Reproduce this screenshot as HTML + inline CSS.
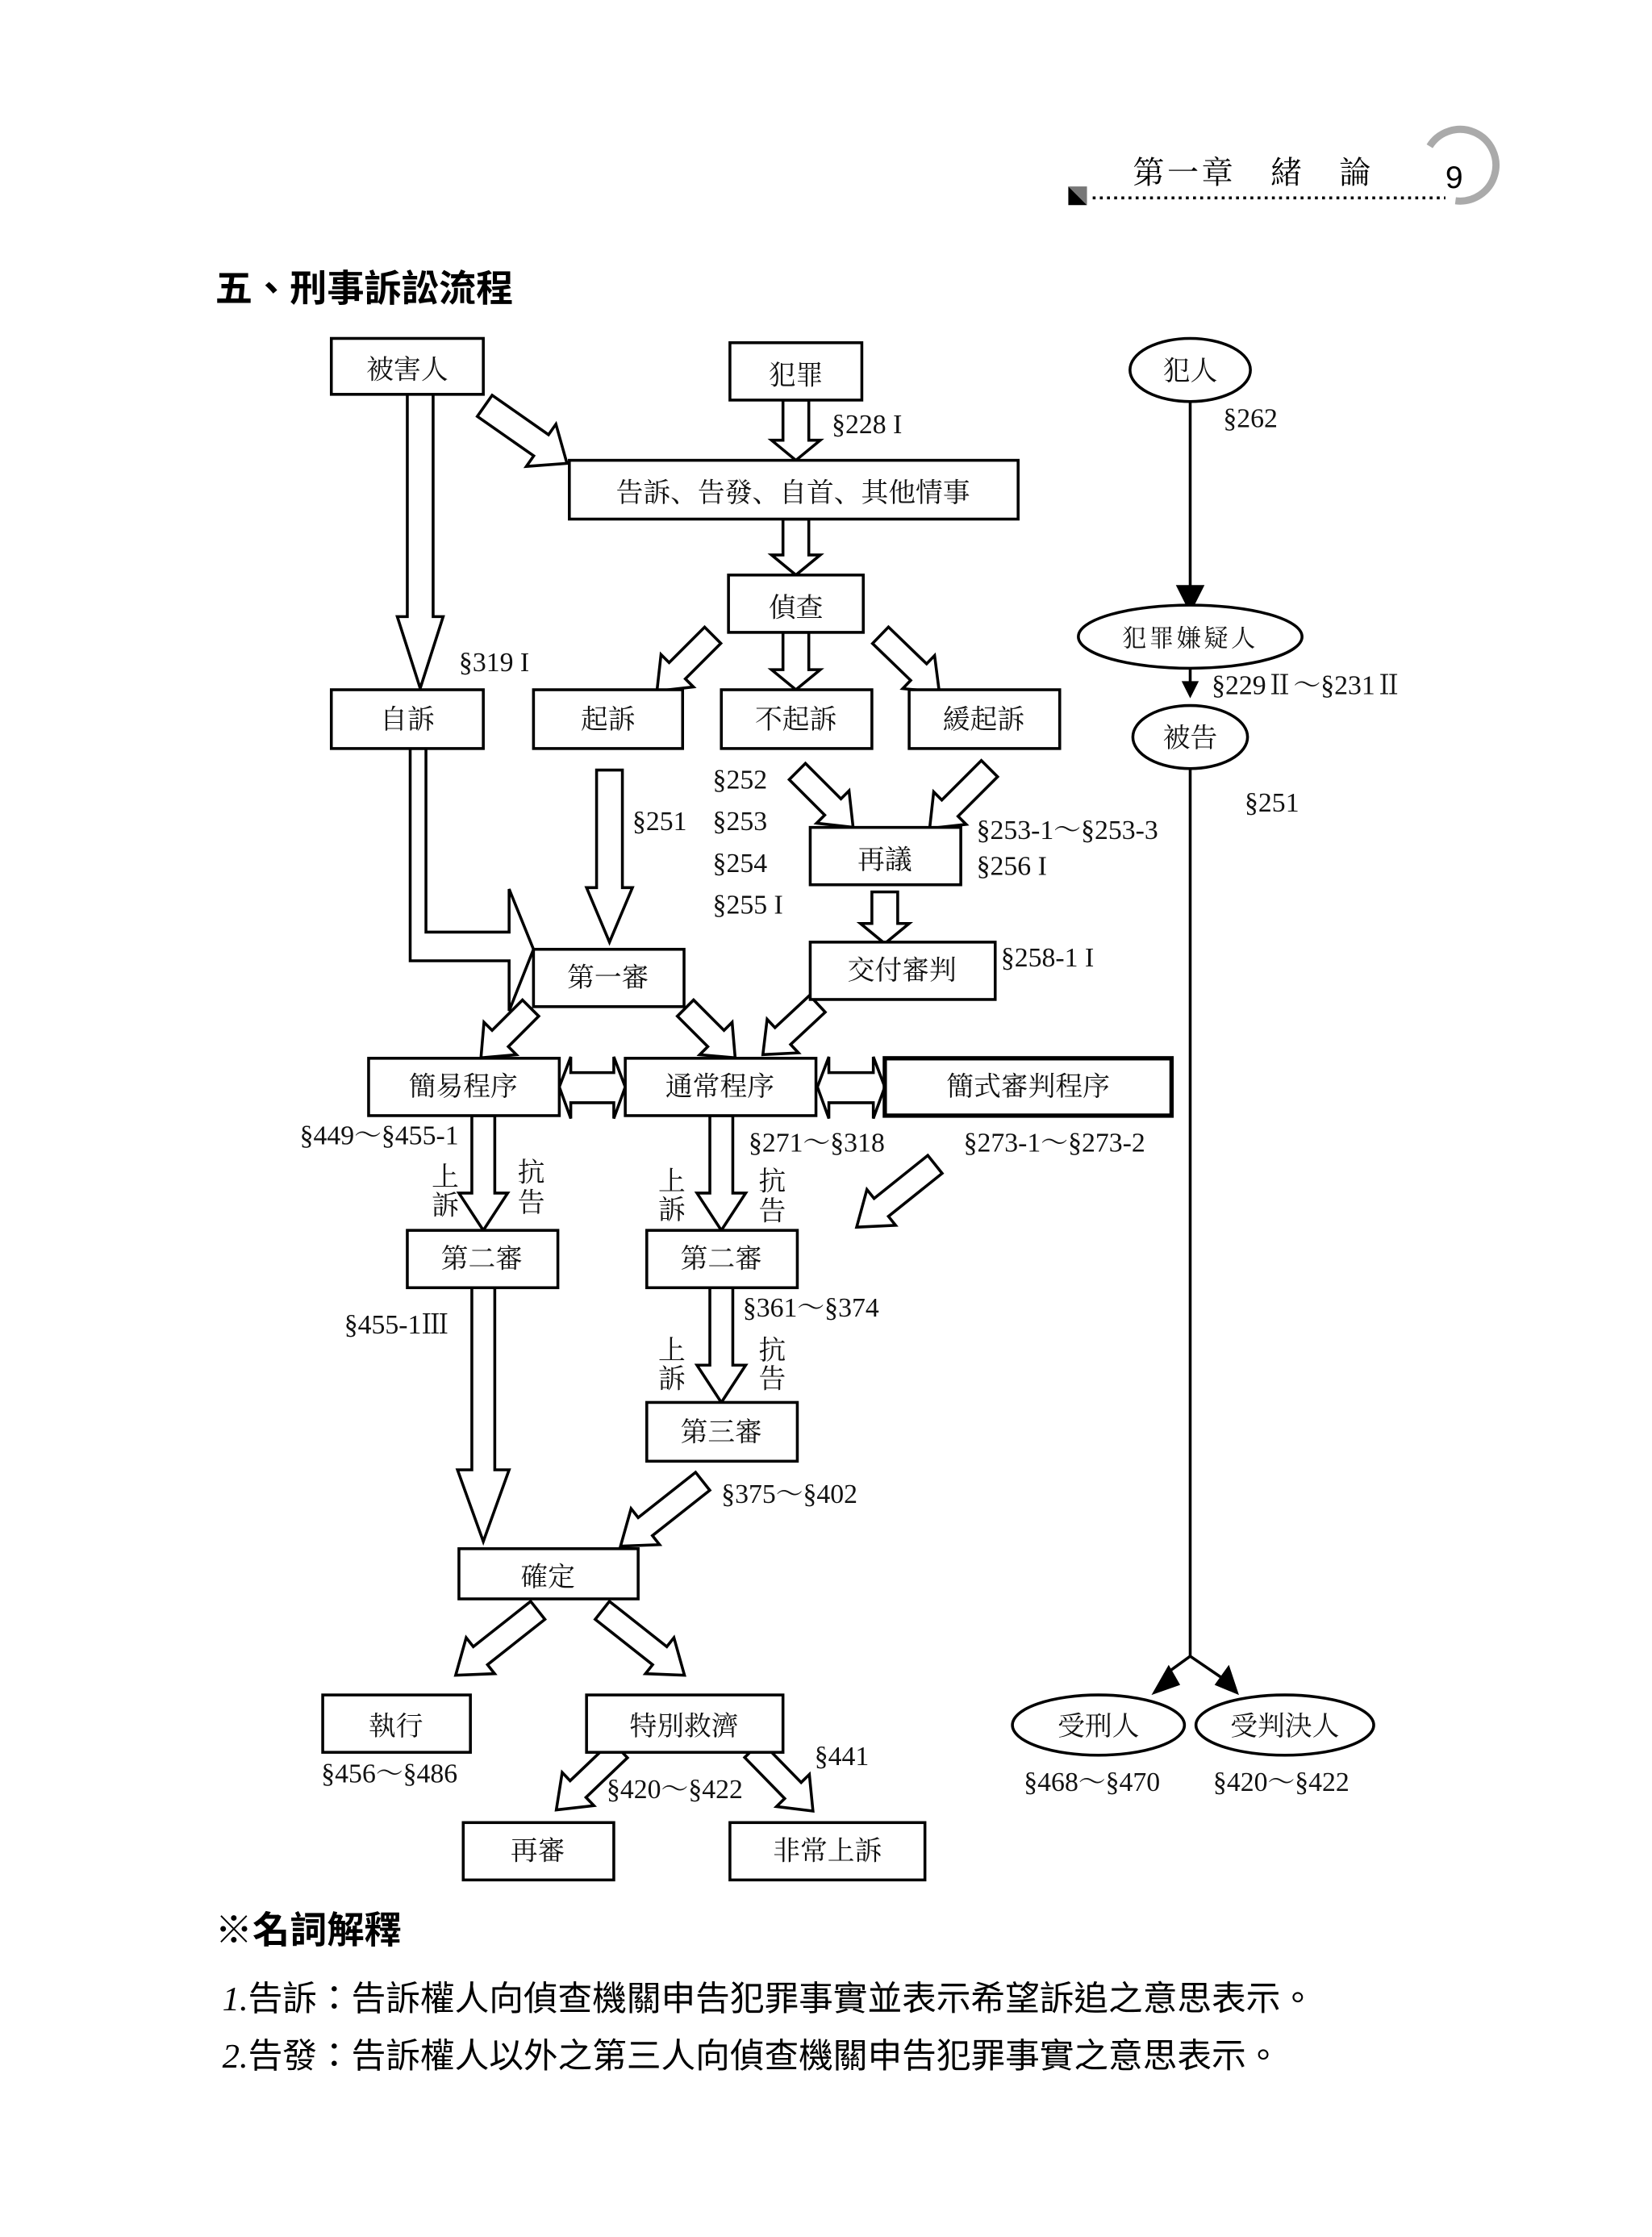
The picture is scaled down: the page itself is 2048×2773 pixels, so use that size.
<!DOCTYPE html>
<html><head><meta charset="utf-8">
<style>
html,body{margin:0;padding:0;background:#fff;}
svg{display:block;}
.t{font-family:"Liberation Serif","Noto Serif CJK SC","Noto Sans CJK TC",serif;font-size:19px;fill:#111;}
.b{font-family:"Liberation Serif","Noto Serif CJK SC","Noto Sans CJK TC",serif;font-size:19px;fill:#111;text-anchor:middle;}
.h{font-family:"Liberation Sans","Noto Sans CJK TC",sans-serif;font-size:26px;font-weight:bold;fill:#000;}
.p{font-family:"Liberation Serif","Noto Sans CJK TC",serif;font-size:24px;fill:#000;}
rect,ellipse{fill:#fff;stroke:#000;stroke-width:2;}
polygon.a{fill:#fff;stroke:#000;stroke-width:2;stroke-linejoin:miter;}
</style></head><body>
<svg width="2048" height="2773" viewBox="0 0 1152 1560" xmlns="http://www.w3.org/2000/svg">
<!-- header -->
<text x="790" y="128" style="font-family:'Noto Serif CJK SC',serif;font-size:22px;fill:#000;letter-spacing:2px">第一章　緒　論</text>
<path d="M 997 102 A 25 25 0 1 1 1015 140" fill="none" stroke="#aaa" stroke-width="5"/>
<text x="1008" y="131" style="font-family:'Liberation Sans',sans-serif;font-size:22px;fill:#000">9</text>
<polygon points="745,130 758,143 745,143" fill="#000"/>
<polygon points="745,130 758,130 758,143" fill="#777"/>
<line x1="762" y1="138" x2="1008" y2="138" stroke="#000" stroke-width="2" stroke-dasharray="2,3"/>

<text x="150" y="210" class="h">五、刑事訴訟流程</text>

<!-- arrows -->
<polygon class="a" transform="translate(293,274)" points="-9,0 9,0 9,156 16,156 0,206 -16,156 -9,156"/>
<polygon class="a" transform="translate(338,283) rotate(-55)" points="-9,0 9,0 9,48 18,48 0,70 -18,48 -9,48"/>
<polygon class="a" transform="translate(555,279)" points="-9,0 9,0 9,28 17,28 0,42 -17,28 -9,28"/>
<polygon class="a" transform="translate(555,362)" points="-9,0 9,0 9,25 17,25 0,39 -17,25 -9,25"/>
<polygon class="a" transform="translate(497,443) rotate(45)" points="-8,0 8,0 8,35 16,35 0,55 -16,35 -8,35"/>
<polygon class="a" transform="translate(555,441)" points="-9,0 9,0 9,26 17,26 0,40 -17,26 -9,26"/>
<polygon class="a" transform="translate(614,443) rotate(-46)" points="-8,0 8,0 8,37 16,37 0,57 -16,37 -8,37"/>
<polygon class="a" transform="translate(556,538) rotate(-45)" points="-8,0 8,0 8,35 16,35 0,55 -16,35 -8,35"/>
<polygon class="a" transform="translate(690,536) rotate(45)" points="-8,0 8,0 8,39 16,39 0,59 -16,39 -8,39"/>
<polygon class="a" transform="translate(425,537)" points="-9,0 9,0 9,82 16,82 0,120 -16,82 -9,82"/>
<polygon class="a" transform="translate(617,622)" points="-9,0 9,0 9,22 17,22 0,36 -17,22 -9,22"/>
<polygon class="a" points="286,522 297,522 297,650 355,650 355,620 372,662 355,705 355,670 286,670"/>
<polygon class="a" transform="translate(370,703) rotate(45)" points="-8,0 8,0 8,30 16,30 0,49 -16,30 -8,30"/>
<polygon class="a" transform="translate(478,703) rotate(-45)" points="-8,0 8,0 8,30 16,30 0,49 -16,30 -8,30"/>
<polygon class="a" transform="translate(570,700) rotate(47)" points="-8,0 8,0 8,33 16,33 0,52 -16,33 -8,33"/>
<polygon class="a" points="390,758 398,737 398,748 428,748 428,737 436,758 428,780 428,769 398,769 398,780"/>
<polygon class="a" points="570,758 578,737 578,748 609,748 609,737 617,758 609,780 609,769 578,769 578,780"/>
<polygon class="a" transform="translate(337,778)" points="-8,0 8,0 8,54 17,54 0,80 -17,54 -8,54"/>
<polygon class="a" transform="translate(503,778)" points="-8,0 8,0 8,54 17,54 0,80 -17,54 -8,54"/>
<polygon class="a" transform="translate(652,812) rotate(51.3)" points="-8,0 8,0 8,48 16,48 0,70 -16,48 -8,48"/>
<polygon class="a" transform="translate(503,898)" points="-8,0 8,0 8,54 17,54 0,80 -17,54 -8,54"/>
<polygon class="a" transform="translate(337,898)" points="-8,0 8,0 8,127 18,127 0,177 -18,127 -8,127"/>
<polygon class="a" transform="translate(490,1033) rotate(51.7)" points="-8,0 8,0 8,51 16,51 0,73 -16,51 -8,51"/>
<polygon class="a" transform="translate(375,1123) rotate(51.7)" points="-8,0 8,0 8,51 16,51 0,73 -16,51 -8,51"/>
<polygon class="a" transform="translate(420,1123) rotate(-51.7)" points="-8,0 8,0 8,51 16,51 0,73 -16,51 -8,51"/>
<polygon class="a" transform="translate(432,1220) rotate(46.3)" points="-8,0 8,0 8,40 16,40 0,61 -16,40 -8,40"/>
<polygon class="a" transform="translate(525,1220) rotate(-44.3)" points="-8,0 8,0 8,40 16,40 0,60 -16,40 -8,40"/>

<!-- boxes -->
<rect x="231" y="236" width="106" height="39"/><text x="284" y="264" class="b">被害人</text>
<rect x="509" y="239" width="92" height="40"/><text x="555" y="268" class="b">犯罪</text>
<rect x="397" y="321" width="313" height="41"/><text x="553" y="350" class="b">告訴、告發、自首、其他情事</text>
<rect x="508" y="401" width="94" height="40"/><text x="555" y="430" class="b">偵查</text>
<rect x="231" y="481" width="106" height="41"/><text x="284" y="508" class="b">自訴</text>
<rect x="372" y="481" width="104" height="41"/><text x="424" y="508" class="b">起訴</text>
<rect x="503" y="481" width="105" height="41"/><text x="555" y="508" class="b">不起訴</text>
<rect x="634" y="481" width="105" height="41"/><text x="686" y="508" class="b">緩起訴</text>
<rect x="565" y="577" width="105" height="40"/><text x="617" y="606" class="b">再議</text>
<rect x="372" y="662" width="105" height="40"/><text x="424" y="688" class="b">第一審</text>
<rect x="565" y="657" width="129" height="40"/><text x="629" y="683" class="b">交付審判</text>
<rect x="257" y="738" width="133" height="40"/><text x="323" y="764" class="b">簡易程序</text>
<rect x="436" y="738" width="133" height="40"/><text x="502" y="764" class="b">通常程序</text>
<rect x="617" y="738" width="200" height="40" style="stroke-width:3"/><text x="717" y="764" class="b">簡式審判程序</text>
<rect x="284" y="858" width="105" height="40"/><text x="336" y="884" class="b">第二審</text>
<rect x="451" y="858" width="105" height="40"/><text x="503" y="884" class="b">第二審</text>
<rect x="451" y="978" width="105" height="41"/><text x="503" y="1005" class="b">第三審</text>
<rect x="320" y="1080" width="125" height="35"/><text x="382" y="1106" class="b">確定</text>
<rect x="225" y="1182" width="103" height="40"/><text x="276" y="1210" class="b">執行</text>
<rect x="409" y="1182" width="137" height="40"/><text x="477" y="1210" class="b">特別救濟</text>
<rect x="323" y="1271" width="105" height="40"/><text x="375" y="1297" class="b">再審</text>
<rect x="509" y="1271" width="136" height="40"/><text x="577" y="1297" class="b">非常上訴</text>

<!-- right column -->
<line x1="830" y1="280" x2="830" y2="412" stroke="#000" stroke-width="2"/>
<polygon points="820,408 840,408 830,428" fill="#000"/>
<line x1="830" y1="466" x2="830" y2="478" stroke="#000" stroke-width="2"/>
<polygon points="824,475 836,475 830,487" fill="#000"/>
<line x1="830" y1="536" x2="830" y2="1155" stroke="#000" stroke-width="2"/>
<line x1="830" y1="1155" x2="812" y2="1168" stroke="#000" stroke-width="2"/>
<line x1="830" y1="1155" x2="852" y2="1170" stroke="#000" stroke-width="2"/>
<polygon points="803,1182 815,1161 823,1175" fill="#000"/>
<polygon points="864,1182 847,1175 857,1161" fill="#000"/>
<ellipse cx="830" cy="258" rx="42" ry="22"/><text x="830" y="265" class="b">犯人</text>
<ellipse cx="830" cy="444" rx="78" ry="22"/><text x="830" y="451" class="b" style="font-size:17px;letter-spacing:2px">犯罪嫌疑人</text>
<ellipse cx="830" cy="514" rx="40" ry="22"/><text x="830" y="521" class="b">被告</text>
<ellipse cx="766" cy="1203" rx="60" ry="21"/><text x="766" y="1210" class="b">受刑人</text>
<ellipse cx="896" cy="1203" rx="62" ry="21"/><text x="896" y="1210" class="b">受判決人</text>

<!-- labels -->
<text x="580" y="302" class="t">§228 I</text>
<text x="320" y="468" class="t">§319 I</text>
<text x="853" y="298" class="t">§262</text>
<text x="845" y="484" class="t">§229Ⅱ～§231Ⅱ</text>
<text x="868" y="566" class="t">§251</text>
<text x="497" y="550" class="t">§252</text>
<text x="497" y="579" class="t">§253</text>
<text x="497" y="608" class="t">§254</text>
<text x="497" y="637" class="t">§255 I</text>
<text x="441" y="579" class="t">§251</text>
<text x="681" y="585" class="t">§253-1～§253-3</text>
<text x="681" y="610" class="t">§256 I</text>
<text x="698" y="674" class="t">§258-1 I</text>
<text x="209" y="798" class="t">§449～§455-1</text>
<text x="522" y="803" class="t">§271～§318</text>
<text x="672" y="803" class="t">§273-1～§273-2</text>
<text x="301" y="827" class="t">上</text><text x="301" y="847" class="t">訴</text>
<text x="361" y="824" class="t">抗</text><text x="361" y="845" class="t">告</text>
<text x="459" y="830" class="t">上</text><text x="459" y="850" class="t">訴</text>
<text x="529" y="830" class="t">抗</text><text x="529" y="851" class="t">告</text>
<text x="518" y="918" class="t">§361～§374</text>
<text x="240" y="930" class="t">§455-1Ⅲ</text>
<text x="459" y="948" class="t">上</text><text x="459" y="968" class="t">訴</text>
<text x="529" y="948" class="t">抗</text><text x="529" y="968" class="t">告</text>
<text x="503" y="1048" class="t">§375～§402</text>
<text x="224" y="1243" class="t">§456～§486</text>
<text x="423" y="1254" class="t">§420～§422</text>
<text x="568" y="1231" class="t">§441</text>
<text x="714" y="1249" class="t">§468～§470</text>
<text x="846" y="1249" class="t">§420～§422</text>

<!-- footer text -->
<text x="150" y="1355" class="h">※名詞解釋</text>
<text x="155" y="1402" class="p"><tspan font-style="italic">1.</tspan>告訴：告訴權人向偵查機關申告犯罪事實並表示希望訴追之意思表示。</text>
<text x="155" y="1442" class="p"><tspan font-style="italic">2.</tspan>告發：告訴權人以外之第三人向偵查機關申告犯罪事實之意思表示。</text>
</svg>
</body></html>
